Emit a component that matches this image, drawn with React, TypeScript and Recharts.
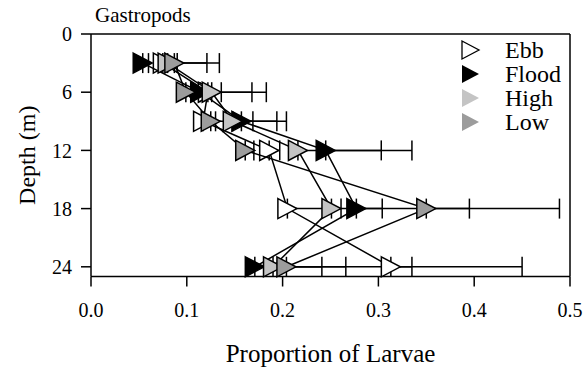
import {
  ErrorBar,
  ReferenceLine,
  Scatter,
  ScatterChart,
  XAxis,
  YAxis,
} from "recharts";

const FONT = '"Liberation Serif", "DejaVu Serif", serif';

// depth of each sampling stratum (m)
const depths = [3, 6, 9, 12, 18, 24];

// mean proportion of larvae per depth, and the upper end of each error bar
const ebb = [0.075, 0.122, 0.117, 0.186, 0.205, 0.313];
const ebbUpper = [0.121, 0.168, 0.169, 0.197, 0.304, 0.335];

const flood = [0.054, 0.114, 0.157, 0.245, 0.277, 0.171];
const floodUpper = [0.06, 0.183, 0.204, 0.335, 0.395, 0.241];

const high = [0.08, 0.126, 0.148, 0.216, 0.251, 0.19];
const highUpper = [0.09, 0.136, 0.194, 0.303, 0.261, 0.266];

const low = [0.087, 0.099, 0.125, 0.161, 0.35, 0.204];
const lowUpper = [0.134, 0.105, 0.13, 0.17, 0.489, 0.45];

const xTicks = [0, 0.1, 0.2, 0.3, 0.4, 0.5];
const yTicks = [0, 6, 12, 18, 24];

type Row = { depth: number; x: number; err: [number, number] };

const toRows = (values: number[], upper: number[]): Row[] =>
  depths.map((d, i) => ({ depth: d, x: values[i], err: [0, upper[i] - values[i]] }));

const series = [
  { name: "Ebb", fill: "#ffffff", data: toRows(ebb, ebbUpper) },
  { name: "Flood", fill: "#000000", data: toRows(flood, floodUpper) },
  { name: "High", fill: "#c4c4c4", data: toRows(high, highUpper) },
  { name: "Low", fill: "#9c9c9c", data: toRows(low, lowUpper) },
];

function Triangle({ cx, cy, fill }: { cx?: number; cy?: number; fill: string }) {
  if (cx == null || cy == null) return null;
  const pts = `${cx - 9.5},${cy - 10} ${cx + 9.5},${cy} ${cx - 9.5},${cy + 10}`;
  return <polygon points={pts} fill={fill} stroke="#000" strokeWidth={1.5} strokeLinejoin="miter" />;
}

function LegendBox() {
  return (
    <div style={{ position: "absolute", left: 455, top: 38, fontFamily: FONT, fontSize: 24 }}>
      {series.map((s) => (
        <div key={s.name} style={{ display: "flex", alignItems: "center", height: 24 }}>
          <svg width={40} height={24}>
            <polygon
              points="7,3 24,12 7,21"
              fill={s.fill}
              stroke={s.name === "Ebb" ? "#000" : "none"}
              strokeWidth={1.3}
            />
          </svg>
          <span style={{ marginLeft: 10, lineHeight: "24px" }}>{s.name}</span>
        </div>
      ))}
    </div>
  );
}

export default function App() {
  return (
    <div style={{ position: "absolute", left: 0, top: 0, width: 587, height: 373, background: "#fff" }}>
      <div
        style={{
          position: "absolute",
          left: 95,
          top: 5,
          fontFamily: FONT,
          fontSize: 21,
          lineHeight: "21px",
        }}
      >
        Gastropods
      </div>
      <ScatterChart width={587} height={373} margin={{ top: 34, right: 17, bottom: 0, left: 0 }}>
        <XAxis
          type="number"
          dataKey="x"
          domain={[0, 0.5]}
          ticks={xTicks}
          tickFormatter={(v: number) => v.toFixed(1)}
          height={96.5}
          tickSize={10}
          tickMargin={16}
          axisLine={{ stroke: "#000", strokeWidth: 1.5 }}
          tickLine={{ stroke: "#000", strokeWidth: 1.5 }}
          tick={{ fill: "#000", fontSize: 20, fontFamily: FONT }}
          label={{
            value: "Proportion of Larvae",
            position: "insideBottom",
            offset: 11,
            style: { fill: "#000", fontSize: 25, fontFamily: FONT },
          }}
        />
        <YAxis
          type="number"
          dataKey="depth"
          domain={[0, 25]}
          reversed
          ticks={yTicks}
          width={91}
          tickSize={10}
          tickMargin={9}
          axisLine={{ stroke: "#000", strokeWidth: 1.5 }}
          tickLine={{ stroke: "#000", strokeWidth: 1.5 }}
          tick={{ fill: "#000", fontSize: 20, fontFamily: FONT }}
          label={{
            value: "Depth (m)",
            angle: -90,
            position: "insideLeft",
            offset: 26,
            style: { fill: "#000", fontSize: 24, fontFamily: FONT, textAnchor: "middle" },
          }}
        />
        <ReferenceLine y={0} stroke="#000" strokeWidth={1.5} />
        <ReferenceLine x={0.5} stroke="#000" strokeWidth={1.5} />
        {/* error bars go underneath, so the cap at each mean sits under its triangle */}
        {series.map((s) => (
          <Scatter
            key={`${s.name}-err`}
            data={s.data}
            fill="none"
            shape={() => <g />}
            legendType="none"
            isAnimationActive={false}
          >
            <ErrorBar dataKey="err" direction="x" width={10} stroke="#000" strokeWidth={1.5} />
          </Scatter>
        ))}
        {series.map((s) => (
          <Scatter
            key={s.name}
            name={s.name}
            data={s.data}
            fill={s.fill}
            line={{ stroke: "#000", strokeWidth: 1.5 }}
            shape={(p: any) => <Triangle cx={p.cx} cy={p.cy} fill={s.fill} />}
            isAnimationActive={false}
          />
        ))}
      </ScatterChart>
      <LegendBox />
    </div>
  );
}
